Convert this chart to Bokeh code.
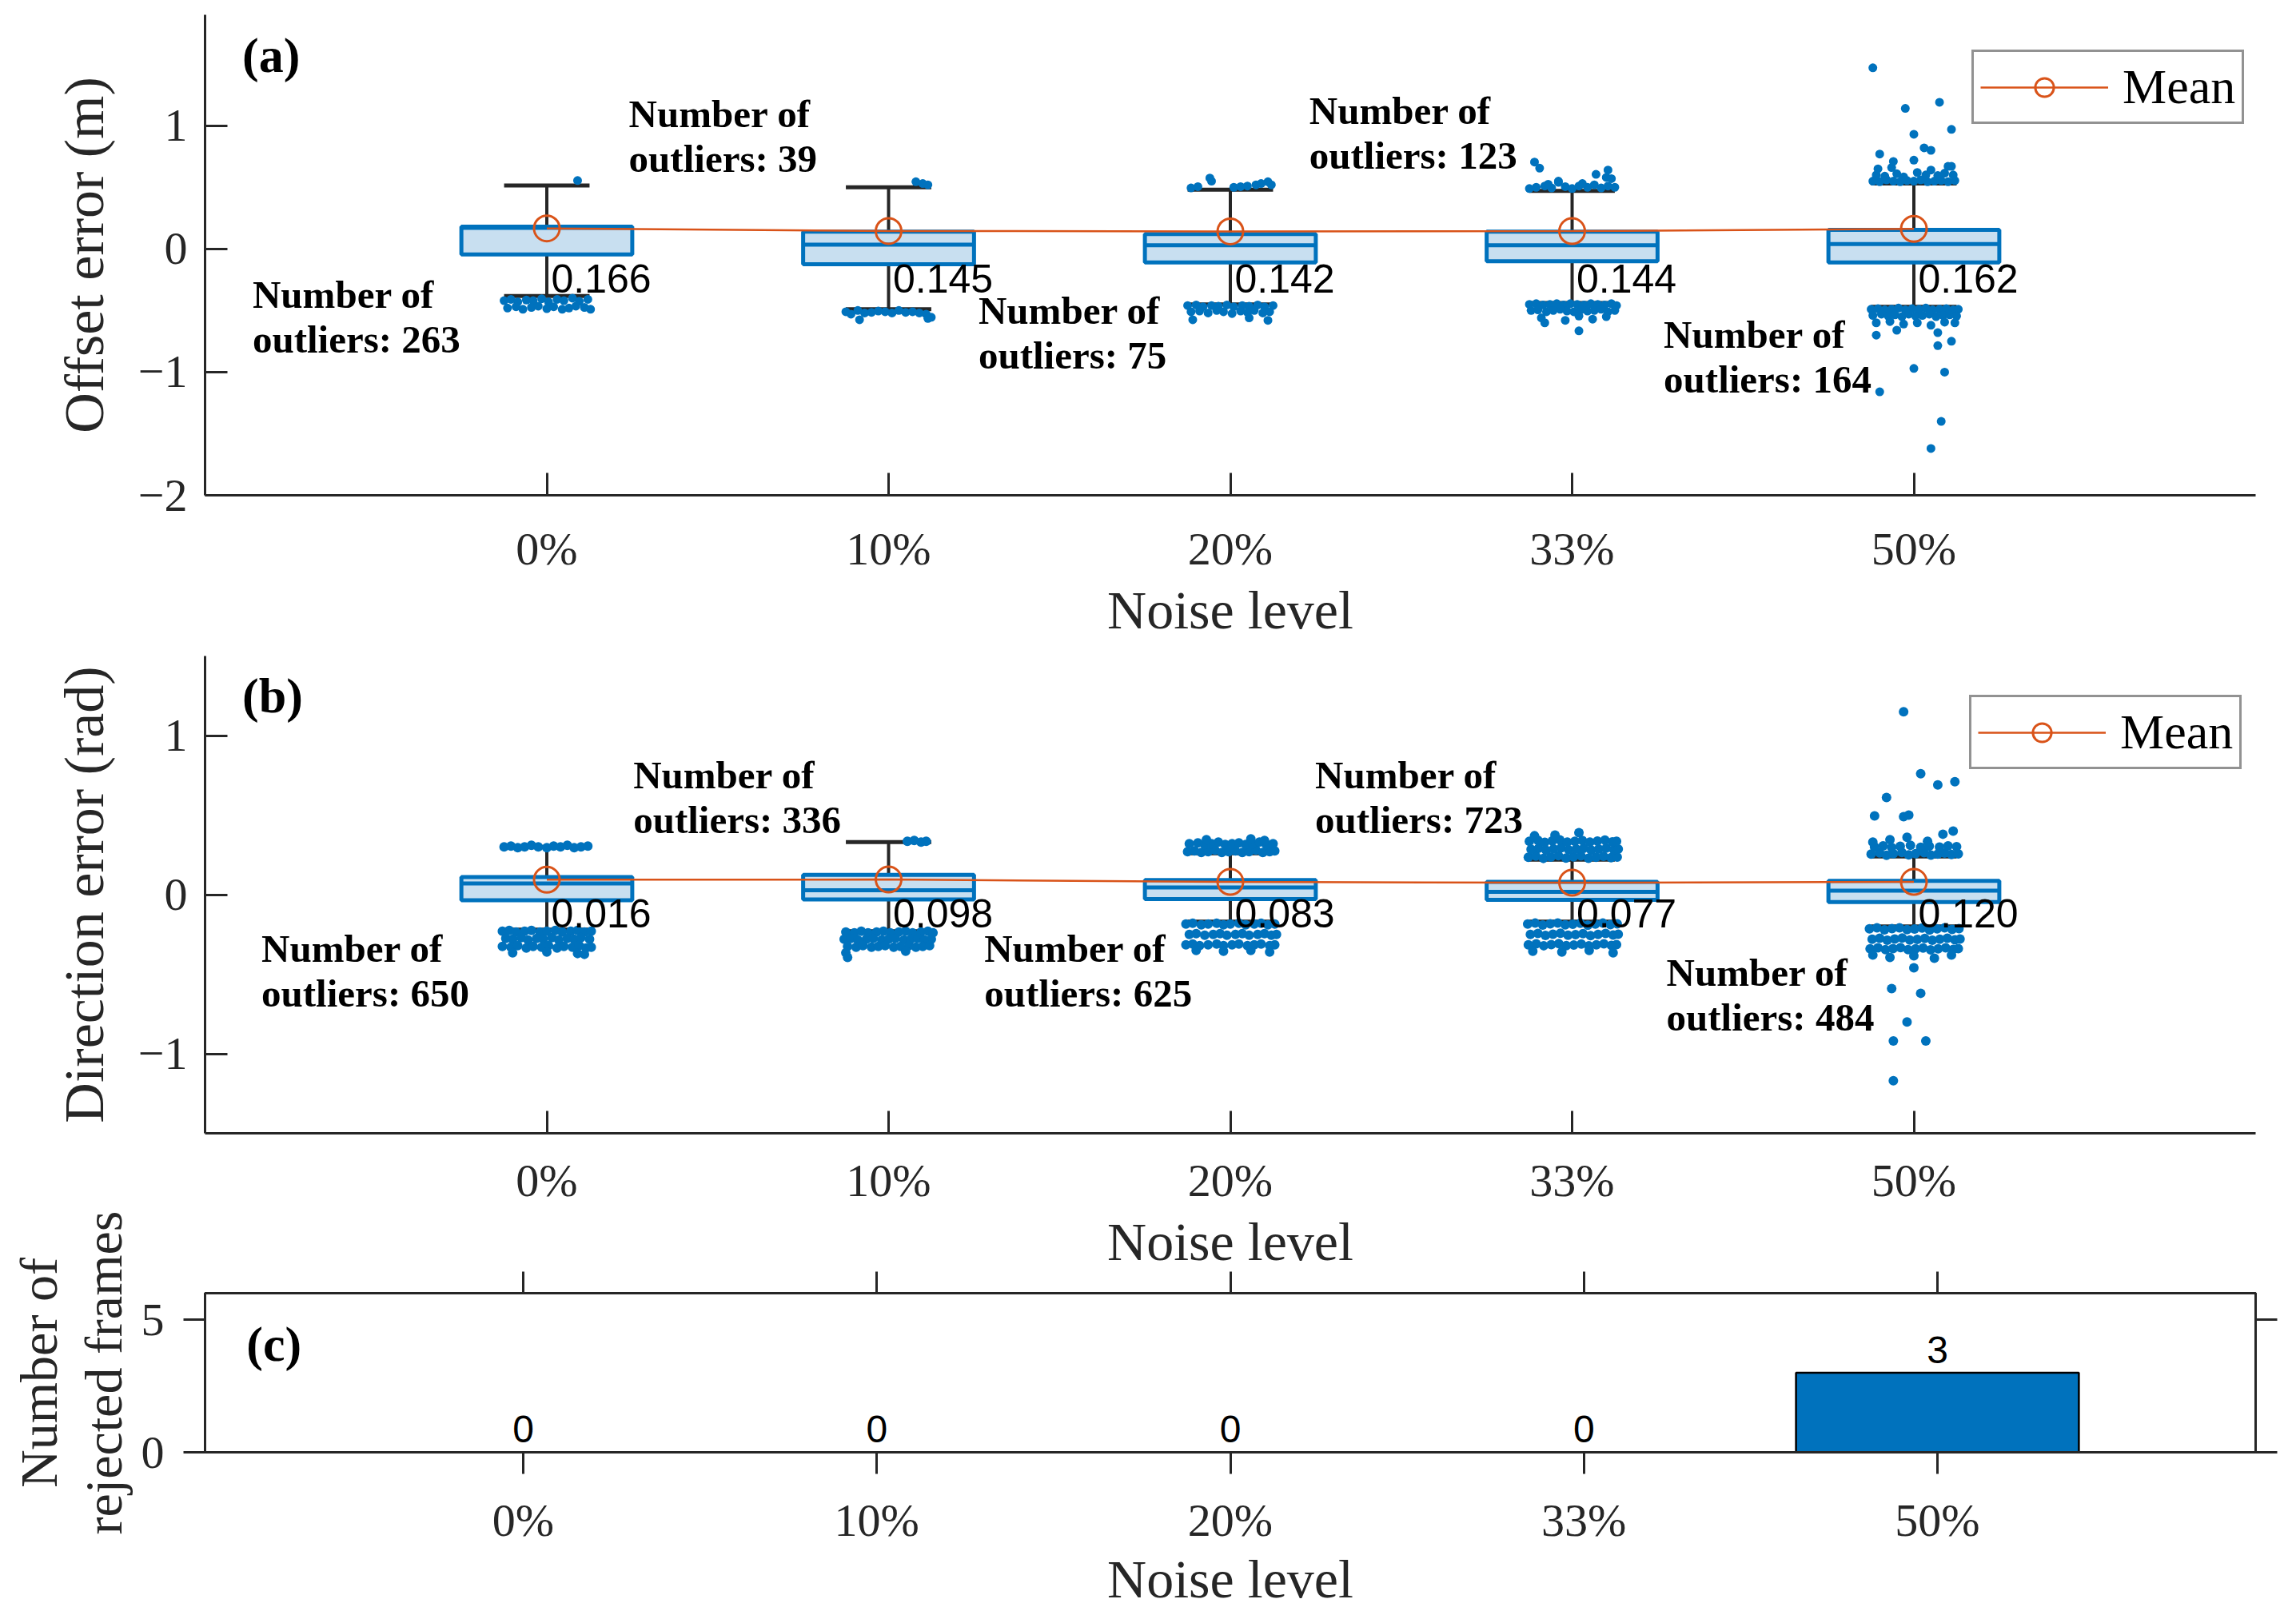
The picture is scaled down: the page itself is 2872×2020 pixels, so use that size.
from bokeh.plotting import figure
from bokeh.layouts import column
from bokeh.models import ColumnDataSource, FixedTicker, Range1d, LinearAxis, Legend, LegendItem, Label
from bokeh.core.properties import value
from bokeh.embed import file_html
from bokeh.resources import INLINE

# ------------------------------------------------------------------ data
NOISE_LABELS = ["0%", "10%", "20%", "33%", "50%"]
POSITIONS = [1, 2, 3, 4, 5]

# panel (a) offset error (m)
A_Q1 = [-0.045, -0.125, -0.11, -0.10, -0.11]
A_Q3 = [0.18, 0.14, 0.12, 0.14, 0.155]
A_MEDIAN = [0.17, 0.035, 0.03, 0.03, 0.04]
A_WHISKER_HI = [0.515, 0.50, 0.48, 0.47, 0.53]
A_WHISKER_LO = [-0.383, -0.49, -0.45, -0.44, -0.47]
A_MEAN = [0.166, 0.145, 0.142, 0.144, 0.162]
A_VALUE_TEXT = ["0.166", "0.145", "0.142", "0.144", "0.162"]
A_N_OUTLIERS = [263, 39, 75, 123, 164]

# outliers (jitter offset from the box centre, value)
A_OUT_0_DX = [-0.125, -0.105, -0.085, -0.06, -0.04, -0.015, 0.005, 0.03, 0.05, 0.075, 0.095, 0.12,
              -0.115, -0.09, -0.07, -0.045, -0.025, 0.0, 0.02, 0.045, 0.065, 0.085, 0.11, 0.128, 0.09]
A_OUT_0_Y = [-0.42, -0.41, -0.43, -0.415, -0.42, -0.405, -0.43, -0.41, -0.42, -0.40, -0.425, -0.41,
             -0.48, -0.47, -0.49, -0.475, -0.465, -0.485, -0.47, -0.49, -0.48, -0.465, -0.475, -0.49, 0.555]
A_OUT_1_DX = [-0.125, -0.11, -0.09, -0.07, -0.05, -0.03, -0.01, 0.01, 0.03, 0.05, 0.07, 0.09, 0.11, 0.125,
              -0.085, 0.115, 0.08, 0.1, 0.115]
A_OUT_1_Y = [-0.51, -0.53, -0.50, -0.52, -0.515, -0.505, -0.51, -0.52, -0.50, -0.515, -0.51, -0.52, -0.53, -0.555,
             -0.575, -0.565, 0.545, 0.53, 0.52]
A_OUT_2_DX = [-0.115, -0.095, -0.06, -0.055, 0.01, 0.03, 0.05, 0.075, 0.09, 0.11, 0.12,
              -0.125, -0.1, -0.08, -0.055, -0.035, -0.01, 0.01, 0.035, 0.055, 0.08, 0.1, 0.125,
              -0.115, -0.09, -0.065, -0.04, -0.02, 0.005, 0.03, 0.05, 0.07, 0.095, 0.115,
              -0.11, 0.055, 0.11]
A_OUT_2_Y = [0.495, 0.505, 0.575, 0.55, 0.50, 0.505, 0.51, 0.52, 0.53, 0.545, 0.52,
             -0.46, -0.455, -0.47, -0.46, -0.465, -0.455, -0.47, -0.46, -0.465, -0.455, -0.47, -0.46,
             -0.51, -0.505, -0.52, -0.5, -0.51, -0.525, -0.505, -0.515, -0.5, -0.52, -0.51,
             -0.575, -0.56, -0.58]
A_OUT_3_DX = [-0.11, -0.095, -0.125, -0.105, -0.08, -0.06, -0.04, -0.02, 0.0, 0.02, 0.045, 0.065, 0.085, 0.105,
              0.125, -0.04, -0.07, 0.07, 0.105, 0.115, 0.03, 0.1,
              -0.125, -0.105, -0.085, -0.065, -0.045, -0.025, -0.005, 0.015, 0.035, 0.055, 0.075, 0.095, 0.115, 0.13,
              -0.12, -0.1, -0.075, -0.055, -0.035, -0.015, 0.005, 0.025, 0.045, 0.065, 0.085, 0.105, 0.125,
              -0.09, -0.08, -0.02, 0.02, 0.06, 0.1, 0.02]
A_OUT_3_Y = [0.705, 0.655, 0.49, 0.50, 0.51, 0.495, 0.54, 0.505, 0.49, 0.51, 0.50, 0.52, 0.495, 0.51,
             0.50, 0.55, 0.525, 0.605, 0.64, 0.57, 0.53, 0.58,
             -0.45, -0.445, -0.455, -0.45, -0.445, -0.455, -0.445, -0.45, -0.455, -0.445, -0.45, -0.455, -0.445, -0.46,
             -0.5, -0.495, -0.51, -0.5, -0.49, -0.505, -0.51, -0.495, -0.505, -0.5, -0.49, -0.51, -0.5,
             -0.56, -0.6, -0.58, -0.545, -0.57, -0.55, -0.665]
A_OUT_4_DX = [-0.12, -0.1, -0.08, -0.06, -0.04, -0.02, 0.0, 0.02, 0.04, 0.06, 0.08, 0.1, 0.12,
              -0.11, -0.085, -0.05, -0.03, 0.01, 0.035, 0.07, 0.09, 0.115, -0.105, -0.065, 0.05, 0.11,
              -0.12, 0.075, -0.025, 0.11, 0.0, 0.03, 0.05, -0.1, -0.06, 0.0, 0.1,
              -0.125, -0.105, -0.085, -0.065, -0.045, -0.025, -0.005, 0.015, 0.035, 0.055, 0.075, 0.095, 0.115, 0.13,
              -0.12, -0.095, -0.075, -0.055, -0.035, -0.015, 0.005, 0.025, 0.045, 0.065, 0.085, 0.105, 0.125,
              -0.11, -0.07, -0.03, 0.01, 0.05, 0.09, 0.12, -0.05, 0.07,
              0.07, -0.11, 0.0, 0.09, -0.1, 0.08, 0.05, 0.11]
A_OUT_4_Y = [0.55, 0.545, 0.56, 0.55, 0.545, 0.555, 0.55, 0.56, 0.545, 0.55, 0.555, 0.545, 0.555,
             0.6, 0.59, 0.61, 0.585, 0.62, 0.6, 0.595, 0.615, 0.6, 0.65, 0.66, 0.64, 0.67,
             1.47, 1.19, 1.14, 0.97, 0.93, 0.82, 0.80, 0.77, 0.71, 0.72, 0.67,
             -0.49, -0.485, -0.495, -0.49, -0.48, -0.495, -0.485, -0.49, -0.48, -0.495, -0.49, -0.485, -0.495, -0.49,
             -0.54, -0.53, -0.545, -0.535, -0.55, -0.53, -0.545, -0.54, -0.53, -0.55, -0.54, -0.535, -0.545,
             -0.6, -0.59, -0.61, -0.6, -0.62, -0.595, -0.6, -0.66, -0.68,
             -0.785, -0.70, -0.97, -1.0, -1.16, -1.40, -1.62, -0.75]

# panel (b) direction error (rad)
B_Q1 = [-0.035, -0.03, -0.028, -0.033, -0.046]
B_Q3 = [0.11, 0.125, 0.092, 0.08, 0.087]
B_MEDIAN = [0.07, 0.028, 0.045, 0.018, 0.025]
B_WHISKER_HI = [0.30, 0.33, 0.26, 0.22, 0.24]
B_WHISKER_LO = [-0.22, -0.23, -0.17, -0.17, -0.20]
B_MEAN = [0.094, 0.095, 0.080, 0.075, 0.080]
B_VALUE_TEXT = ["0.016", "0.098", "0.083", "0.077", "0.120"]
B_N_OUTLIERS = [650, 336, 625, 723, 484]

B_OUT_0_DX = [-0.125, -0.105, -0.085, -0.065, -0.045, -0.025, 0.0, 0.02, 0.04, 0.06, 0.08, 0.1, 0.12,
              -0.13, -0.11, -0.09, -0.065, -0.045, -0.02, 0.0, 0.025, 0.045, 0.07, 0.09, 0.11, 0.13,
              -0.12, -0.1, -0.075, -0.055, -0.03, -0.01, 0.015, 0.035, 0.06, 0.08, 0.1, 0.125,
              -0.13, -0.105, -0.085, -0.06, -0.04, -0.015, 0.005, 0.03, 0.05, 0.075, 0.095, 0.115, 0.13,
              -0.1, 0.0, 0.09, 0.11]
B_OUT_0_Y = [0.30, 0.305, 0.295, 0.30, 0.31, 0.30, 0.295, 0.305, 0.30, 0.31, 0.295, 0.30, 0.305,
             -0.23, -0.225, -0.235, -0.23, -0.225, -0.235, -0.23, -0.225, -0.235, -0.23, -0.225, -0.235, -0.23,
             -0.275, -0.28, -0.27, -0.285, -0.275, -0.28, -0.27, -0.285, -0.275, -0.28, -0.27, -0.28,
             -0.325, -0.33, -0.32, -0.335, -0.325, -0.33, -0.32, -0.335, -0.325, -0.33, -0.32, -0.335, -0.33,
             -0.365, -0.36, -0.37, -0.375]
B_OUT_1_DX = [0.055, 0.075, 0.095, 0.11,
              -0.125, -0.1, -0.08, -0.06, -0.035, -0.015, 0.005, 0.03, 0.05, 0.07, 0.095, 0.115, 0.13,
              -0.13, -0.11, -0.09, -0.065, -0.045, -0.02, 0.0, 0.02, 0.045, 0.065, 0.085, 0.105, 0.125,
              -0.12, -0.095, -0.075, -0.05, -0.03, -0.01, 0.015, 0.035, 0.06, 0.08, 0.1, 0.12,
              -0.125, -0.12, 0.05]
B_OUT_1_Y = [0.335, 0.34, 0.33, 0.335,
             -0.235, -0.24, -0.23, -0.24, -0.235, -0.23, -0.24, -0.235, -0.23, -0.24, -0.235, -0.23, -0.24,
             -0.28, -0.275, -0.285, -0.28, -0.275, -0.285, -0.28, -0.275, -0.285, -0.28, -0.275, -0.285, -0.28,
             -0.325, -0.33, -0.32, -0.33, -0.325, -0.32, -0.33, -0.325, -0.32, -0.33, -0.325, -0.32,
             -0.365, -0.395, -0.355]
B_OUT_2_DX = [-0.125, -0.105, -0.085, -0.065, -0.045, -0.025, -0.005, 0.015, 0.035, 0.055, 0.075, 0.095, 0.115, 0.13,
              -0.12, -0.095, -0.075, -0.055, -0.035, -0.015, 0.005, 0.025, 0.045, 0.065, 0.085, 0.105, 0.125,
              -0.07, 0.06, 0.1,
              -0.13, -0.11, -0.085, -0.065, -0.04, -0.02, 0.0, 0.025, 0.045, 0.07, 0.09, 0.11, 0.13,
              -0.12, -0.1, -0.075, -0.05, -0.03, -0.01, 0.015, 0.035, 0.055, 0.08, 0.1, 0.12, 0.135,
              -0.13, -0.11, -0.09, -0.065, -0.04, -0.02, 0.005, 0.025, 0.05, 0.07, 0.09, 0.115, 0.13,
              -0.1, -0.02, 0.06, 0.115]
B_OUT_2_Y = [0.27, 0.275, 0.265, 0.27, 0.28, 0.265, 0.27, 0.275, 0.265, 0.27, 0.28, 0.265, 0.27, 0.275,
             0.32, 0.325, 0.315, 0.32, 0.33, 0.315, 0.32, 0.325, 0.315, 0.32, 0.33, 0.315, 0.32,
             0.345, 0.35, 0.34,
             -0.185, -0.18, -0.19, -0.185, -0.18, -0.19, -0.185, -0.18, -0.19, -0.185, -0.18, -0.19, -0.185,
             -0.25, -0.245, -0.255, -0.25, -0.245, -0.255, -0.25, -0.245, -0.255, -0.25, -0.245, -0.255, -0.25,
             -0.315, -0.31, -0.32, -0.315, -0.31, -0.32, -0.315, -0.31, -0.32, -0.315, -0.31, -0.32, -0.315,
             -0.35, -0.355, -0.35, -0.36]
B_OUT_3_DX = [-0.128, -0.106, -0.084, -0.062, -0.04, -0.018, 0.004, 0.026, 0.048, 0.07, 0.092, 0.114, 0.132,
              -0.12, -0.098, -0.076, -0.054, -0.032, -0.01, 0.012, 0.034, 0.056, 0.078, 0.1, 0.122, 0.135,
              -0.125, -0.1, -0.08, -0.058, -0.036, -0.014, 0.008, 0.03, 0.052, 0.074, 0.096, 0.118, 0.13,
              -0.05, 0.02, -0.11,
              -0.13, -0.108, -0.086, -0.064, -0.042, -0.02, 0.002, 0.024, 0.046, 0.068, 0.09, 0.112, 0.132,
              -0.122, -0.1, -0.078, -0.056, -0.034, -0.012, 0.01, 0.032, 0.054, 0.076, 0.098, 0.12, 0.135,
              -0.128, -0.105, -0.083, -0.061, -0.039, -0.017, 0.005, 0.027, 0.049, 0.071, 0.093, 0.115, 0.13,
              -0.115, -0.03, 0.05, 0.12]
B_OUT_3_Y = [0.235, 0.242, 0.228, 0.236, 0.245, 0.23, 0.238, 0.244, 0.229, 0.235, 0.241, 0.232, 0.236,
             0.285, 0.292, 0.279, 0.288, 0.294, 0.281, 0.286, 0.291, 0.28, 0.287, 0.293, 0.282, 0.286,
             0.335, 0.342, 0.329, 0.338, 0.344, 0.331, 0.336, 0.341, 0.33, 0.337, 0.343, 0.332, 0.336,
             0.375, 0.39, 0.37,
             -0.185, -0.179, -0.191, -0.184, -0.178, -0.19, -0.186, -0.18, -0.192, -0.185, -0.179, -0.189, -0.184,
             -0.25, -0.244, -0.256, -0.249, -0.243, -0.255, -0.251, -0.245, -0.257, -0.25, -0.244, -0.254, -0.249,
             -0.315, -0.309, -0.321, -0.314, -0.308, -0.32, -0.316, -0.31, -0.322, -0.315, -0.309, -0.319, -0.314,
             -0.355, -0.36, -0.35, -0.365]
B_OUT_4_DX = [-0.125, -0.1, -0.08, -0.06, -0.035, -0.015, 0.005, 0.03, 0.05, 0.07, 0.09, 0.11, 0.13,
              -0.115, -0.09, -0.065, -0.04, -0.01, 0.02, 0.045, 0.075, 0.1, 0.125,
              -0.12, -0.07, -0.02, 0.04, 0.085, 0.115,
              -0.03, 0.02, 0.07, 0.12, -0.08, -0.115, -0.03, -0.015,
              -0.13, -0.108, -0.086, -0.064, -0.042, -0.02, 0.002, 0.024, 0.046, 0.068, 0.09, 0.112, 0.132,
              -0.122, -0.1, -0.078, -0.056, -0.034, -0.012, 0.01, 0.032, 0.054, 0.076, 0.098, 0.12, 0.135,
              -0.128, -0.105, -0.083, -0.061, -0.039, -0.017, 0.005, 0.027, 0.049, 0.071, 0.093, 0.115, 0.13,
              -0.12, -0.07, 0.0, 0.06, 0.11,
              0.0, -0.065, 0.02, -0.02, -0.06, 0.035, -0.06]
B_OUT_4_Y = [0.255, 0.262, 0.248, 0.257, 0.265, 0.25, 0.258, 0.264, 0.249, 0.255, 0.261, 0.252, 0.256,
             0.30, 0.307, 0.296, 0.304, 0.31, 0.298, 0.305, 0.299, 0.306, 0.301,
             0.33, 0.345, 0.36, 0.335, 0.38, 0.40,
             1.15, 0.76, 0.69, 0.71, 0.61, 0.495, 0.49, 0.50,
             -0.215, -0.209, -0.221, -0.214, -0.208, -0.22, -0.216, -0.21, -0.222, -0.215, -0.209, -0.219, -0.214,
             -0.28, -0.274, -0.286, -0.279, -0.273, -0.285, -0.281, -0.275, -0.287, -0.28, -0.274, -0.284, -0.279,
             -0.34, -0.334, -0.346, -0.339, -0.333, -0.345, -0.341, -0.335, -0.347, -0.34, -0.334, -0.344, -0.339,
             -0.38, -0.395, -0.385, -0.40, -0.38,
             -0.46, -0.59, -0.62, -0.80, -0.92, -0.92, -1.17]

# panel (c) number of rejected frames
C_REJECTED = [0, 0, 0, 0, 3]

# ------------------------------------------------------------------ layout / style
BLUE = "#0072BD"
BOX_FILL = "#c8dff0"
ORANGE = "#D95319"
AXIS_COLOR = "#262626"
SERIF = "Liberation Serif"
SANS = "Liberation Sans"

FRAME_W = 2565
BOX_HALF = 0.25
CAP_HALF = 0.125
VALUE_DX = 0.013

A_NOTE_X = [0.139, 1.24, 2.263, 3.231, 4.268]
A_NOTE_Y = [-0.555, 0.914, -0.685, 0.938, -0.88]
A_VALUE_Y = -0.24
B_NOTE_X = [0.165, 1.253, 2.28, 3.248, 4.276]
B_NOTE_Y = [-0.478, 0.61, -0.478, 0.61, -0.629]
B_VALUE_Y = -0.12
BAR_LABEL_OFFSET = 0.86


def make_fig(frame_h, top, bottom, xr, yr):
    p = figure(frame_width=FRAME_W, frame_height=frame_h,
               min_border_left=256, min_border_right=43,
               min_border_top=top, min_border_bottom=bottom,
               x_range=Range1d(*xr), y_range=Range1d(*yr),
               output_backend="svg", toolbar_location=None,
               background_fill_color="white", border_fill_color="white")
    p.xgrid.visible = False
    p.ygrid.visible = False
    return p


def style_axis(ax, ticks, overrides, tick_in, tick_out, standoff, label_standoff=5, label_size="68px"):
    ax.ticker = FixedTicker(ticks=ticks)
    ax.major_label_overrides = overrides
    ax.axis_line_color = AXIS_COLOR
    ax.axis_line_width = 3
    ax.major_tick_line_color = AXIS_COLOR
    ax.major_tick_line_width = 3
    ax.major_tick_in = tick_in
    ax.major_tick_out = tick_out
    ax.minor_tick_line_color = None
    ax.major_label_text_font = SERIF
    ax.major_label_text_font_size = "58px"
    ax.major_label_text_color = AXIS_COLOR
    ax.major_label_standoff = standoff
    ax.axis_label_text_font = SERIF
    ax.axis_label_text_font_size = label_size
    ax.axis_label_text_font_style = "normal"
    ax.axis_label_text_color = AXIS_COLOR
    ax.axis_label_standoff = label_standoff


X_OVERRIDES = {pos: lab for pos, lab in zip(POSITIONS, NOISE_LABELS)}


def tick_text(v):
    return ("\u2212" + str(abs(v))) if v < 0 else str(v)


def box_panel(p, q1, q3, med, whi, wlo, mean, value_text, n_out, out_dx, out_y,
              note_x, note_y, value_y, panel_label, label_y, legend_loc, dot_size):
    xs = POSITIONS
    src = ColumnDataSource(dict(
        x=xs, q1=q1, q3=q3, med=med, whi=whi, wlo=wlo,
        left=[x - BOX_HALF for x in xs], right=[x + BOX_HALF for x in xs],
        cl=[x - CAP_HALF for x in xs], cr=[x + CAP_HALF for x in xs]))
    p.segment(x0="x", y0="q3", x1="x", y1="whi", source=src, line_color=AXIS_COLOR, line_width=4)
    p.segment(x0="x", y0="q1", x1="x", y1="wlo", source=src, line_color=AXIS_COLOR, line_width=4)
    p.segment(x0="cl", y0="whi", x1="cr", y1="whi", source=src, line_color=AXIS_COLOR, line_width=5)
    p.segment(x0="cl", y0="wlo", x1="cr", y1="wlo", source=src, line_color=AXIS_COLOR, line_width=5)
    p.quad(left="left", right="right", bottom="q1", top="q3", source=src,
           fill_color=BOX_FILL, line_color=BLUE, line_width=5)
    p.segment(x0="left", y0="med", x1="right", y1="med", source=src, line_color=BLUE, line_width=5)

    ox, oy = [], []
    for pos, dxs, ys in zip(xs, out_dx, out_y):
        ox += [pos + d for d in dxs]
        oy += list(ys)
    p.scatter(ox, oy, marker="circle", size=dot_size, fill_color=BLUE, line_color=None)

    line_r = p.line(xs, mean, line_color=ORANGE, line_width=2.5)
    circ_r = p.scatter(xs, mean, marker="circle", size=32, fill_color=None,
                       line_color=ORANGE, line_width=3)

    p.text(x=[x + VALUE_DX for x in xs], y=[value_y] * len(xs), text=value_text,
           text_font=value(SANS), text_font_size="50px", text_color="black",
           text_align="left", text_baseline="middle")

    notes = ["Number of\noutliers: %d" % n for n in n_out]
    p.text(x=note_x, y=note_y, text=notes, text_font=value(SERIF), text_font_style="bold",
           text_font_size="49px", text_color="black", text_align="left",
           text_baseline="middle", text_line_height=1.02)

    p.add_layout(Label(x=0.109, y=label_y, text=panel_label, text_font=SERIF,
                       text_font_style="bold", text_font_size="62px", text_color="black",
                       text_baseline="middle", text_align="left"))

    legend = Legend(items=[LegendItem(label="Mean", renderers=[line_r, circ_r])],
                    location=legend_loc, margin=0, padding=8, spacing=0,
                    glyph_width=160, glyph_height=58, label_height=58, label_standoff=18,
                    label_text_font=SERIF, label_text_font_size="62px",
                    label_text_color="black", label_text_baseline="middle",
                    border_line_color=AXIS_COLOR, border_line_width=3,
                    background_fill_color="white", background_fill_alpha=1.0)
    p.add_layout(legend)


# ---------------- panel (a)
pa = make_fig(601, 18, 176, (0, 6), (-2, 1.9))
pa.outline_line_color = None
style_axis(pa.xaxis[0], POSITIONS, X_OVERRIDES, 28, 0, 34, label_standoff=3)
pa.xaxis[0].axis_label = "Noise level"
A_YTICKS = [-2, -1, 0, 1]
style_axis(pa.yaxis[0], A_YTICKS, {t: tick_text(t) for t in A_YTICKS}, 28, 0, 22,
           label_standoff=26, label_size="70px")
pa.yaxis[0].axis_label = "Offset error (m)"
box_panel(pa, A_Q1, A_Q3, A_MEDIAN, A_WHISKER_HI, A_WHISKER_LO, A_MEAN, A_VALUE_TEXT, A_N_OUTLIERS,
          [A_OUT_0_DX, A_OUT_1_DX, A_OUT_2_DX, A_OUT_3_DX, A_OUT_4_DX],
          [A_OUT_0_Y, A_OUT_1_Y, A_OUT_2_Y, A_OUT_3_Y, A_OUT_4_Y],
          A_NOTE_X, A_NOTE_Y, A_VALUE_Y, "(a)", 1.57, (2210, 464), 11)

# ---------------- panel (b)  (its "Noise level" title is carried by panel (c)'s top area)
pb = make_fig(597, 17, 85, (0, 6), (-1.5, 1.5))
pb.outline_line_color = None
style_axis(pb.xaxis[0], POSITIONS, X_OVERRIDES, 28, 0, 26, label_standoff=0)
B_YTICKS = [-1, 0, 1]
style_axis(pb.yaxis[0], B_YTICKS, {t: tick_text(t) for t in B_YTICKS}, 28, 0, 22,
           label_standoff=26, label_size="70px")
pb.yaxis[0].axis_label = "Direction error (rad)"
box_panel(pb, B_Q1, B_Q3, B_MEDIAN, B_WHISKER_HI, B_WHISKER_LO, B_MEAN, B_VALUE_TEXT, B_N_OUTLIERS,
          [B_OUT_0_DX, B_OUT_1_DX, B_OUT_2_DX, B_OUT_3_DX, B_OUT_4_DX],
          [B_OUT_0_Y, B_OUT_1_Y, B_OUT_2_Y, B_OUT_3_Y, B_OUT_4_Y],
          B_NOTE_X, B_NOTE_Y, B_VALUE_Y, "(b)", 1.25, (2207, 455), 12)

# ---------------- panel (c)
pc = make_fig(199, 104, 198, (0.1, 5.9), (0, 6))
pc.outline_line_color = AXIS_COLOR
pc.outline_line_width = 3
pc.outline_line_alpha = 1.0
style_axis(pc.xaxis[0], POSITIONS, X_OVERRIDES, 0, 27, 25, label_standoff=0)
pc.xaxis[0].axis_label = "Noise level"
C_YTICKS = [0, 5]
style_axis(pc.yaxis[0], C_YTICKS, {t: tick_text(t) for t in C_YTICKS}, 0, 27, 24,
           label_standoff=8, label_size="66px")
pc.yaxis[0].axis_label = "Number of\nrejected frames"
pc.yaxis[0].axis_label_text_line_height = 1.1

top_ax = LinearAxis()
style_axis(top_ax, POSITIONS, {p: "" for p in POSITIONS}, 0, 27, 0, label_standoff=0)
top_ax.major_label_text_font_size = "0px"
pc.add_layout(top_ax, "above")

# axis title of panel (b), drawn just above panel (c)'s top ticks
b_title_ax = LinearAxis()
style_axis(b_title_ax, [], {}, 0, 0, 0, label_standoff=0)
b_title_ax.axis_line_color = None
b_title_ax.major_label_text_font_size = "0px"
b_title_ax.axis_label = "Noise level"
pc.add_layout(b_title_ax, "above")

right_ax = LinearAxis()
style_axis(right_ax, C_YTICKS, {t: "" for t in C_YTICKS}, 0, 27, 0, label_standoff=0)
right_ax.major_label_text_font_size = "0px"
pc.add_layout(right_ax, "right")

pc.vbar(x=POSITIONS, top=C_REJECTED, bottom=0, width=0.8, fill_color=BLUE,
        line_color="black", line_width=2.5)
pc.text(x=POSITIONS, y=[v + BAR_LABEL_OFFSET for v in C_REJECTED], text=[str(v) for v in C_REJECTED],
        text_font=value(SANS), text_font_size="48px", text_color="black",
        text_align="center", text_baseline="middle")
pc.add_layout(Label(x=0.217, y=4.1, text="(c)", text_font=SERIF, text_font_style="bold",
                    text_font_size="62px", text_color="black", text_baseline="middle",
                    text_align="left"))

layout = column(pa, pb, pc, spacing=0)
open("out.html", "w").write(file_html(layout, INLINE, title="Noise level"))
